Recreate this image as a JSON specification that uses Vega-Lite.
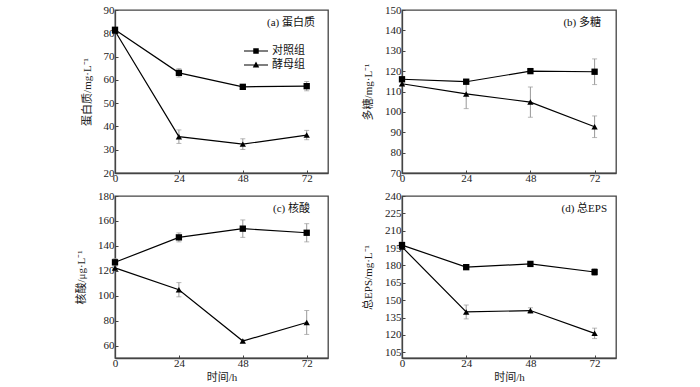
{
  "$schema": "https://vega.github.io/schema/vega-lite/v6.json",
  "autosize": {"type": "pad"},
  "padding": {"left": 74, "top": 3, "right": 5, "bottom": 5},
  "background": "white",
  "bounds": "flush",
  "columns": 2,
  "spacing": {"row": 23, "column": 74},
  "resolve": {"legend": {"shape": "independent"}, "scale": {"x": "independent", "y": "independent"}},
  "config": {
    "font": "Liberation Serif, Noto Sans CJK SC",
    "view": {"stroke": "#444", "strokeWidth": 1.3},
    "legend": {"padding": 0},
    "axis": {
      "grid": false,
      "domainColor": "#444",
      "domainWidth": 1.3,
      "tickColor": "#444",
      "tickSize": -3,
      "labelOverlap": false,
      "labelFlush": false,
      "labelFont": "Liberation Serif, Noto Sans CJK SC",
      "titleFont": "Liberation Serif, Noto Sans CJK SC",
      "labelFontSize": 11,
      "titleFontSize": 11,
      "labelColor": "#222",
      "titleColor": "#222",
      "titleFontWeight": "normal"
    },
    "axisX": {"labelPadding": 2, "titlePadding": 3},
    "axisY": {"labelPadding": 4, "titlePadding": 11},
    "title": {"font": "Liberation Serif, Noto Sans CJK SC", "fontSize": 11, "fontWeight": "normal", "color": "#111"}
  },
  "data": {"values": [
    {"p": "a", "g": "对照组", "t": 0, "v": 81.5, "lo": 80.7, "hi": 82.3},
    {"p": "a", "g": "对照组", "t": 24, "v": 63.0, "lo": 61.2, "hi": 64.8},
    {"p": "a", "g": "对照组", "t": 48, "v": 57.0, "lo": 56.0, "hi": 58.0},
    {"p": "a", "g": "对照组", "t": 72, "v": 57.3, "lo": 55.3, "hi": 59.3},
    {"p": "a", "g": "酵母组", "t": 0, "v": 81.0, "lo": 80.2, "hi": 81.8},
    {"p": "a", "g": "酵母组", "t": 24, "v": 35.6, "lo": 32.7, "hi": 38.5},
    {"p": "a", "g": "酵母组", "t": 48, "v": 32.4, "lo": 30.1, "hi": 34.7},
    {"p": "a", "g": "酵母组", "t": 72, "v": 36.3, "lo": 34.3, "hi": 38.3},
    {"p": "b", "g": "对照组", "t": 0, "v": 116.0, "lo": 115.0, "hi": 117.0},
    {"p": "b", "g": "对照组", "t": 24, "v": 114.8, "lo": 113.8, "hi": 115.8},
    {"p": "b", "g": "对照组", "t": 48, "v": 120.0, "lo": 119.0, "hi": 121.0},
    {"p": "b", "g": "对照组", "t": 72, "v": 119.7, "lo": 113.4, "hi": 126.0},
    {"p": "b", "g": "酵母组", "t": 0, "v": 113.8, "lo": 112.8, "hi": 114.8},
    {"p": "b", "g": "酵母组", "t": 24, "v": 108.8, "lo": 101.6, "hi": 116.0},
    {"p": "b", "g": "酵母组", "t": 48, "v": 104.8, "lo": 97.4, "hi": 112.2},
    {"p": "b", "g": "酵母组", "t": 72, "v": 92.7, "lo": 87.4, "hi": 98.0},
    {"p": "c", "g": "对照组", "t": 0, "v": 126.8, "lo": 123.8, "hi": 129.8},
    {"p": "c", "g": "对照组", "t": 24, "v": 146.8, "lo": 143.2, "hi": 150.4},
    {"p": "c", "g": "对照组", "t": 48, "v": 153.8, "lo": 146.8, "hi": 160.8},
    {"p": "c", "g": "对照组", "t": 72, "v": 150.5, "lo": 143.2, "hi": 157.8},
    {"p": "c", "g": "酵母组", "t": 0, "v": 122.3, "lo": 120.8, "hi": 123.8},
    {"p": "c", "g": "酵母组", "t": 24, "v": 104.8, "lo": 99.1, "hi": 110.5},
    {"p": "c", "g": "酵母组", "t": 48, "v": 63.6, "lo": 62.6, "hi": 64.6},
    {"p": "c", "g": "酵母组", "t": 72, "v": 78.5, "lo": 68.9, "hi": 88.1},
    {"p": "d", "g": "对照组", "t": 0, "v": 197.6, "lo": 195.1, "hi": 200.1},
    {"p": "d", "g": "对照组", "t": 24, "v": 178.5, "lo": 176.5, "hi": 180.5},
    {"p": "d", "g": "对照组", "t": 48, "v": 181.3, "lo": 179.8, "hi": 182.8},
    {"p": "d", "g": "对照组", "t": 72, "v": 174.3, "lo": 171.3, "hi": 177.3},
    {"p": "d", "g": "酵母组", "t": 0, "v": 196.0, "lo": 194.5, "hi": 197.5},
    {"p": "d", "g": "酵母组", "t": 24, "v": 139.8, "lo": 133.8, "hi": 145.8},
    {"p": "d", "g": "酵母组", "t": 48, "v": 141.0, "lo": 138.5, "hi": 143.5},
    {"p": "d", "g": "酵母组", "t": 72, "v": 121.3, "lo": 116.8, "hi": 125.8}
  ]},
  "concat": [
    {
      "width": 213, "height": 163,
      "title": {"text": "(a) 蛋白质", "anchor": "end", "frame": "group", "orient": "top", "offset": 0, "dy": 24, "dx": -13},
      "transform": [{"filter": "datum.p == 'a'"}],
      "resolve": {"scale": {"shape": "independent"}, "legend": {"shape": "independent"}},
      "encoding": {
        "x": {"field": "t", "type": "quantitative", "scale": {"domain": [0, 80], "nice": false}, "axis": {"values": [0, 24, 48, 72], "title": null}}
      },
      "layer": [
        {"mark": {"type": "errorbar", "color": "#999", "thickness": 1, "ticks": {"size": 5, "color": "#999", "thickness": 1}},
         "encoding": {"y": {"field": "lo", "type": "quantitative", "title": "蛋白质/mg·L⁻¹", "scale": {"domain": [20, 90], "nice": false}, "axis": {"values": [20, 30, 40, 50, 60, 70, 80, 90]}}, "y2": {"field": "hi"}, "detail": {"field": "g"}}},
        {"mark": {"type": "line", "color": "black", "strokeWidth": 1.2},
         "encoding": {"y": {"field": "v", "type": "quantitative", "title": "蛋白质/mg·L⁻¹", "axis": {"values": [20, 30, 40, 50, 60, 70, 80, 90]}}, "detail": {"field": "g"}}},
        {"mark": {"type": "point", "filled": true, "color": "black", "opacity": 1, "size": 40},
         "encoding": {"y": {"field": "v", "type": "quantitative", "title": "蛋白质/mg·L⁻¹", "axis": {"values": [20, 30, 40, 50, 60, 70, 80, 90]}},
           "shape": {"field": "g", "type": "nominal", "scale": {"domain": ["对照组", "酵母组"], "range": ["square", "triangle-up"]}, "legend": null}}},
        {"mark": {"type": "point", "filled": true, "color": "black", "opacity": 0, "size": 1},
         "encoding": {"y": {"field": "v", "type": "quantitative", "title": "蛋白质/mg·L⁻¹", "axis": {"values": [20, 30, 40, 50, 60, 70, 80, 90]}},
           "shape": {"field": "g", "type": "nominal", "scale": {"domain": ["对照组", "酵母组"], "range": ["M-2.4,-0.11H2.4V0.11H-2.4ZM-0.55,-0.55H0.55V0.55H-0.55Z", "M-2.4,-0.11H2.4V0.11H-2.4ZM0,-0.68L0.65,0.5H-0.65Z"]},
             "legend": {"title": null, "orient": "none", "legendX": 135, "legendY": 35, "symbolSize": 100, "symbolFillColor": "black", "symbolOpacity": 1, "labelFontSize": 11, "labelOffset": 10, "rowPadding": 1, "labelFont": "Liberation Serif, Noto Sans CJK SC", "labelColor": "#111"}}}}
      ]
    },
    {
      "width": 214, "height": 163,
      "title": {"text": "(b) 多糖", "anchor": "end", "frame": "group", "orient": "top", "offset": 0, "dy": 24, "dx": -15},
      "transform": [{"filter": "datum.p == 'b'"}],
      "encoding": {
        "x": {"field": "t", "type": "quantitative", "scale": {"domain": [0, 80], "nice": false}, "axis": {"values": [0, 24, 48, 72], "title": null}}
      },
      "layer": [
        {"mark": {"type": "errorbar", "color": "#999", "thickness": 1, "ticks": {"size": 5, "color": "#999", "thickness": 1}},
         "encoding": {"y": {"field": "lo", "type": "quantitative", "title": "多糖/mg·L⁻¹", "scale": {"domain": [70, 150], "nice": false}, "axis": {"values": [70, 80, 90, 100, 110, 120, 130, 140, 150]}}, "y2": {"field": "hi"}, "detail": {"field": "g"}}},
        {"mark": {"type": "line", "color": "black", "strokeWidth": 1.2},
         "encoding": {"y": {"field": "v", "type": "quantitative", "title": "多糖/mg·L⁻¹", "axis": {"values": [70, 80, 90, 100, 110, 120, 130, 140, 150]}}, "detail": {"field": "g"}}},
        {"mark": {"type": "point", "filled": true, "color": "black", "opacity": 1, "size": 40},
         "encoding": {"y": {"field": "v", "type": "quantitative", "title": "多糖/mg·L⁻¹", "axis": {"values": [70, 80, 90, 100, 110, 120, 130, 140, 150]}},
           "shape": {"field": "g", "type": "nominal", "scale": {"domain": ["对照组", "酵母组"], "range": ["square", "triangle-up"]}, "legend": null}}}
      ]
    },
    {
      "width": 213, "height": 162,
      "title": {"text": "(c) 核酸", "anchor": "end", "frame": "group", "orient": "top", "offset": 0, "dy": 24, "dx": -18},
      "transform": [{"filter": "datum.p == 'c'"}],
      "encoding": {
        "x": {"field": "t", "type": "quantitative", "scale": {"domain": [0, 80], "nice": false}, "axis": {"values": [0, 24, 48, 72], "title": "时间/h"}}
      },
      "layer": [
        {"mark": {"type": "errorbar", "color": "#999", "thickness": 1, "ticks": {"size": 5, "color": "#999", "thickness": 1}},
         "encoding": {"y": {"field": "lo", "type": "quantitative", "title": "核酸/μg·L⁻¹", "scale": {"domain": [50, 180], "nice": false}, "axis": {"values": [60, 80, 100, 120, 140, 160, 180]}}, "y2": {"field": "hi"}, "detail": {"field": "g"}}},
        {"mark": {"type": "line", "color": "black", "strokeWidth": 1.2},
         "encoding": {"y": {"field": "v", "type": "quantitative", "title": "核酸/μg·L⁻¹", "axis": {"values": [60, 80, 100, 120, 140, 160, 180]}}, "detail": {"field": "g"}}},
        {"mark": {"type": "point", "filled": true, "color": "black", "opacity": 1, "size": 40},
         "encoding": {"y": {"field": "v", "type": "quantitative", "title": "核酸/μg·L⁻¹", "axis": {"values": [60, 80, 100, 120, 140, 160, 180]}},
           "shape": {"field": "g", "type": "nominal", "scale": {"domain": ["对照组", "酵母组"], "range": ["square", "triangle-up"]}, "legend": null}}}
      ]
    },
    {
      "width": 214, "height": 162,
      "title": {"text": "(d) 总EPS", "anchor": "end", "frame": "group", "orient": "top", "offset": 0, "dy": 24, "dx": -9},
      "transform": [{"filter": "datum.p == 'd'"}],
      "encoding": {
        "x": {"field": "t", "type": "quantitative", "scale": {"domain": [0, 80], "nice": false}, "axis": {"values": [0, 24, 48, 72], "title": "时间/h"}}
      },
      "layer": [
        {"mark": {"type": "errorbar", "color": "#999", "thickness": 1, "ticks": {"size": 5, "color": "#999", "thickness": 1}},
         "encoding": {"y": {"field": "lo", "type": "quantitative", "title": "总EPS/mg·L⁻¹", "scale": {"domain": [100, 240], "nice": false}, "axis": {"values": [105, 120, 135, 150, 165, 180, 195, 210, 225, 240]}}, "y2": {"field": "hi"}, "detail": {"field": "g"}}},
        {"mark": {"type": "line", "color": "black", "strokeWidth": 1.2},
         "encoding": {"y": {"field": "v", "type": "quantitative", "title": "总EPS/mg·L⁻¹", "axis": {"values": [105, 120, 135, 150, 165, 180, 195, 210, 225, 240]}}, "detail": {"field": "g"}}},
        {"mark": {"type": "point", "filled": true, "color": "black", "opacity": 1, "size": 40},
         "encoding": {"y": {"field": "v", "type": "quantitative", "title": "总EPS/mg·L⁻¹", "axis": {"values": [105, 120, 135, 150, 165, 180, 195, 210, 225, 240]}},
           "shape": {"field": "g", "type": "nominal", "scale": {"domain": ["对照组", "酵母组"], "range": ["square", "triangle-up"]}, "legend": null}}}
      ]
    }
  ]
}
